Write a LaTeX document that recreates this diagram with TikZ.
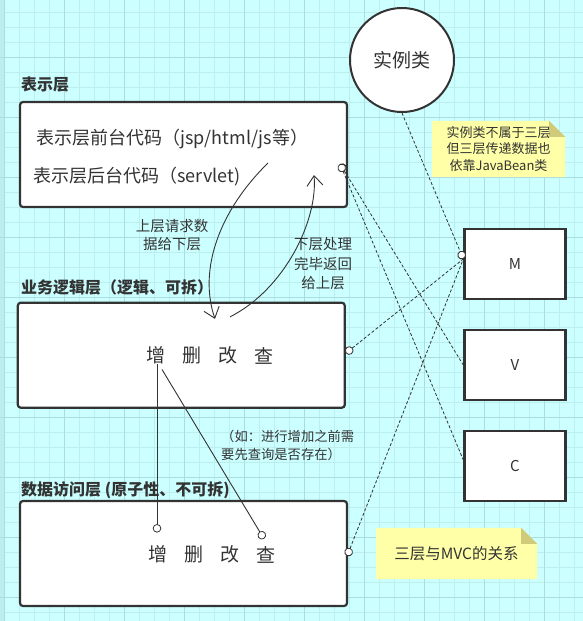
\documentclass[tikz,border=0pt]{standalone}
\usepackage{fontspec}
\newfontfamily\cjk{Noto Sans CJK SC}
\usetikzlibrary{arrows.meta,positioning,backgrounds}
\definecolor{LBack}{HTML}{CCFFFF}
\definecolor{LGrid}{HTML}{BDEEEE}
\definecolor{LGridMajor}{HTML}{ABDCDE}
\definecolor{LInk}{HTML}{333333}
\definecolor{LNote}{HTML}{FFFFA8}
\definecolor{LFold}{HTML}{CFCB7A}
\tikzset{
  layerbox/.style={draw=LInk,line width=2.2pt,rounded corners=3pt,fill=white,
    minimum width=327pt,minimum height=105pt,inner sep=0pt},
  mvcbox/.style={draw=LInk,line width=2.4pt,fill=white,minimum width=101pt,
    minimum height=70pt,inner sep=0pt,text=LInk,font=\cjk\fontsize{15}{18}\selectfont},
  layertitle/.style={anchor=west,inner sep=0pt,text=LInk,font=\cjk\bfseries\fontsize{16}{19}\selectfont},
  codeline/.style={anchor=west,inner sep=0pt,text=LInk,font=\cjk\fontsize{18}{22}\selectfont},
  crudword/.style={inner sep=0pt,text=LInk,font=\cjk\fontsize{19}{22}\selectfont},
  flowtag/.style={align=center,inner sep=0pt,text=LInk,font=\cjk\fontsize{14.5}{18.5}\selectfont},
  notebox/.style={inner sep=0pt,align=center,text=LInk},
  linkline/.style={LInk,line width=0.8pt,dash pattern=on 3pt off 2pt},
  flowline/.style={LInk,line width=0.9pt},
  pin/.tip={Circle[length=8.5pt,width=8.5pt,fill=white,line width=0.8pt]},
  barb/.tip={Straight Barb[length=10pt,width=16pt,line width=0.9pt]},
}
\begin{document}
\begin{tikzpicture}[x=1pt,y=-1pt]
  \useasboundingbox (0,0) rectangle (583,621);
  % grid paper
  \begin{scope}[on background layer]
    \fill[LBack] (0,0) rectangle (583,621);
    \fill[LGrid] (0,0) rectangle (4,621);
    \foreach \x in {4.3,19.3,...,580}
      \draw[LGrid,line width=1pt] (\x,0) -- (\x,621);
    \foreach \y in {12.3,27.3,...,620}
      \draw[LGrid,line width=1pt] (0,\y) -- (583,\y);
    \foreach \x in {4.3,64.3,...,580}
      \draw[LGridMajor,line width=1pt] (\x,0) -- (\x,621);
    \foreach \y in {57.3,117.3,...,620}
      \draw[LGridMajor,line width=1pt] (0,\y) -- (583,\y);
  \end{scope}

  % three layers
  \node[layerbox] (pres) at (183.5,154.5) {};
  \node[layerbox] (biz) at (181.3,355.2) {};
  \node[layerbox] (data) at (183.5,553.5) {};
  \node[layertitle] (prestitle) at (21,85) {表示层};
  \node[layertitle] (biztitle) at (21,287.5) {业务逻辑层（逻辑、可拆）};
  \node[layertitle] (datatitle) at (21,490) {数据访问层 (原子性、不可拆)};
  \node[codeline] (frontcode) at (36,138.5) {表示层前台代码（jsp/html/js等）};
  \node[codeline] (backcode) at (33,177) {表示层后台代码（servlet)};
  \foreach \w [count=\i] in {增,删,改,查}{
    \node[crudword] (b\i) at ({155.5+36*(\i-1)},355.5) {\w};
    \node[crudword] (d\i) at ({158+36*(\i-1)},554.5) {\w};
  }

  % bean and mvc
  \node[draw=LInk,line width=2pt,circle,fill=white,minimum size=104pt,inner sep=0pt,
        text=LInk,font=\cjk\fontsize{19}{22}\selectfont] (bean) at (402,60) {实例类};
  \node[mvcbox] (M) at (515,264) {M};
  \node[mvcbox] (V) at (515,365) {V};
  \node[mvcbox] (C) at (515,466) {C};

  % notes
  \node[notebox,font=\cjk\fontsize{13}{16.3}\selectfont,minimum width=133pt,minimum height=56pt]
       (beannote) at (498.5,149) {实例类不属于三层\\但三层传递数据也\\依靠JavaBean类};
  \node[notebox,font=\cjk\fontsize{15.5}{18}\selectfont,minimum width=161pt,minimum height=51pt]
       (mvcnote) at (456.5,553.5) {三层与MVC的关系};
  \begin{scope}[on background layer]
    \foreach \n in {beannote,mvcnote}{
      \fill[LNote] (\n.south west) -- (\n.north west) -- ([xshift=-16pt]\n.north east)
        -- ([yshift=-16pt]\n.north east) -- (\n.south east) -- cycle;
      \fill[LFold] ([xshift=-16pt]\n.north east) -- ([yshift=-16pt]\n.north east)
        -- ([xshift=-16pt,yshift=-16pt]\n.north east) -- cycle;
    }
  \end{scope}

  % request / response
  \coordinate (reqfrom) at ([shift={(84.5,8.5)}]pres.center);
  \coordinate (reqto) at ([shift={(33.7,17.3)}]biz.north);
  \coordinate (respfrom) at ([shift={(48.7,15.3)}]biz.north);
  \coordinate (respto) at ([shift={(130.5,20.5)}]pres.center);
  \draw[flowline,-barb] (reqfrom) .. controls +(-48,47) and +(-17,-50) .. (reqto);
  \draw[flowline,-barb] (respfrom) .. controls +(55,-28) and +(4,45) .. (respto);
  \node[flowtag] (reqtag) at (172,235) {上层请求数\\据给下层};
  \node[flowtag,font=\cjk\fontsize{14.5}{19.5}\selectfont] (resptag) at (323,264) {下层处理\\完毕返回\\给上层};
  \node[flowtag,align=left,anchor=north west,font=\cjk\fontsize{13.3}{18}\selectfont]
       (checktag) at (221,430) {（如：进行增加之前需\\要先查询是否存在）};

  % calls down to the data layer
  \draw[flowline,-pin] ([shift={(1.5,0)}]b1.south) -- ([shift={(-1,-13)}]d1.north);
  \draw[flowline,-pin] ([shift={(6.5,5)}]b1.south) -- ([shift={(-2,-7)}]d4.north);

  % dashed links to MVC
  \coordinate (mpin) at ([shift={(0,-5)}]M.west);
  \draw[linkline,-pin] (bean.south) -- (mpin);
  \draw[linkline,pin-] ([shift={(0,-2)}]biz.east) -- (mpin);
  \draw[linkline,pin-] ([shift={(-1,2.5)}]data.east) -- (mpin);
  \draw[linkline,pin-] ([shift={(-8,9.5)}]pres.east) -- (V.west);
  \draw[linkline,pin-] ([shift={(-8,9.5)}]pres.east) -- ([shift={(0,-6)}]C.west);
\end{tikzpicture}
\end{document}
